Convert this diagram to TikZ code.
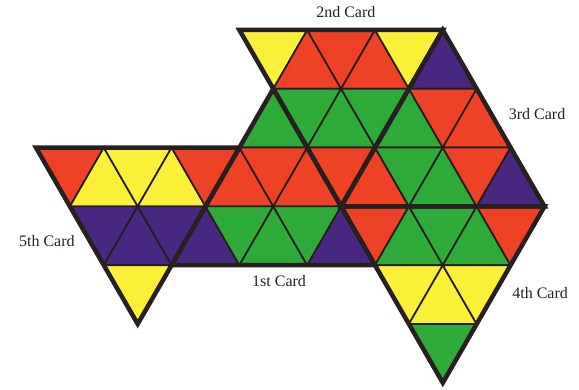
\documentclass[tikz,border=0pt]{standalone}
\usepackage{fontspec}
\setmainfont{Liberation Serif}
\usepackage{xcolor}
\definecolor{tred}{RGB}{238,66,38}
\definecolor{tyel}{RGB}{250,240,55}
\definecolor{tgrn}{RGB}{45,170,55}
\definecolor{tpur}{RGB}{72,40,128}
\definecolor{edge}{RGB}{40,32,32}

\begin{document}
\begin{tikzpicture}[
      x=33.9pt, y=-58.8pt,
      tri/.style={draw=edge!90!black, line width=1.7pt, line join=round},
      card/.style={draw=edge, line width=4.5pt, line join=miter},
      lbl/.style={font=\fontsize{16}{18}\selectfont, text=edge}
    ]
    \useasboundingbox (-1.062,-0.5102) rectangle (16.018,6.1224);
    \foreach \r/\a/\c in {0/6/tyel, 0/7/tred, 0/8/tred, 0/9/tred, 0/10/tyel, 0/11/tpur,
        1/6/tgrn, 1/7/tgrn, 1/8/tgrn, 1/9/tgrn, 1/10/tgrn, 1/11/tred, 1/12/tred,
        2/0/tred, 2/1/tyel, 2/2/tyel, 2/3/tyel, 2/4/tred, 2/5/tred, 2/6/tred,
        2/7/tred, 2/8/tred, 2/9/tred, 2/10/tgrn, 2/11/tgrn, 2/12/tred, 2/13/tpur,
        3/1/tpur, 3/2/tpur, 3/3/tpur, 3/4/tpur, 3/5/tgrn, 3/6/tgrn, 3/7/tgrn,
        3/8/tpur, 3/9/tred, 3/10/tgrn, 3/11/tgrn, 3/12/tgrn, 3/13/tred,
        4/2/tyel, 4/10/tyel, 4/11/tyel, 4/12/tyel,
        5/11/tgrn}{
      \ifodd\numexpr\a+\r\relax
        \filldraw[tri, fill=\c] (\a,\r+1) -- ++(2,0) -- (\a+1,\r) -- cycle;
      \else
        \filldraw[tri, fill=\c] (\a,\r) -- ++(2,0) -- (\a+1,\r+1) -- cycle;
      \fi
    }
    \draw[card] (4,4) -- (10,4) -- (7,1) -- cycle;
    \draw[card] (6,0) -- (12,0) -- (9,3) -- cycle;
    \draw[card] (9,3) -- (15,3) -- (12,0) -- cycle;
    \draw[card] (9,3) -- (15,3) -- (12,6) -- cycle;
    \draw[card] (0,2) -- (6,2) -- (3,5) -- cycle;
    \node[lbl] (first) at (7.17,4.27) {1st Card};
    \node[lbl] (second) at (9.14,-0.306) {2nd Card};
    \node[lbl] (third) at (14.78,1.43) {3rd Card};
    \node[lbl] (fourth) at (14.87,4.47) {4th Card};
    \node[lbl] (fifth) at (0.32,3.59) {5th Card};
  \end{tikzpicture}
\end{document}
